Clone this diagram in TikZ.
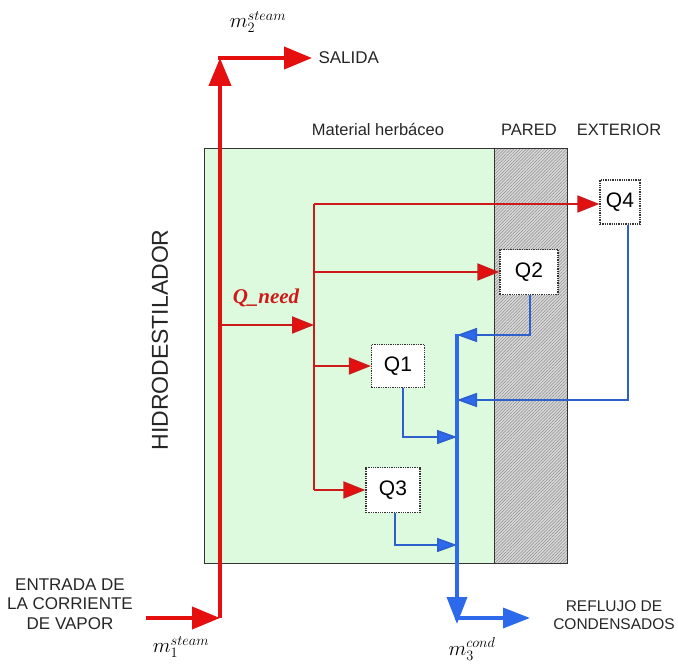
\documentclass[tikz,border=0pt]{standalone}
\usepackage{fontspec}
\setmainfont{Liberation Sans}
\newfontfamily\serifit{Liberation Serif}
\usetikzlibrary{arrows.meta,patterns.meta}
\definecolor{myred}{RGB}{230,15,15}
\definecolor{lred}{RGB}{205,25,25}
\definecolor{myblue}{RGB}{45,105,235}
\definecolor{lblue}{RGB}{45,95,205}
\definecolor{mygreen}{RGB}{222,250,222}
\tikzset{
  bigred/.style={draw=myred,line width=4pt,-{Triangle[length=28pt,width=22pt]}},
  redline/.style={draw=lred,line width=2pt},
  redarr/.style={draw=lred,line width=2pt,-{Triangle[length=22pt,width=17pt,fill=myred]}},
  bigblue/.style={draw=myblue,line width=3.5pt,-{Triangle[length=27pt,width=20pt]}},
  bluearr/.style={draw=lblue,line width=1.6pt,-{Triangle[length=20pt,width=14pt,fill=myblue]}},
  qbox/.style={draw=black!80,densely dotted,line width=1.3pt,fill=white,font=\fontsize{21}{23}\selectfont,inner sep=0pt},
  lbl/.style={font=\fontsize{16.5}{19}\selectfont,text=black!85},
  mlbl/.style={font=\serifit\itshape\fontsize{21}{23}\selectfont}
}
\begin{document}
\begin{tikzpicture}[x=1pt,y=-1pt]
\useasboundingbox (0,0) rectangle (678,669);
% boxes
\node[draw=black!80,line width=1pt,fill=mygreen,minimum width=290pt,minimum height=415pt,inner sep=0pt,anchor=north west] (herb) at (204,148) {};
\fill[gray!30] (494,148) rectangle (567,563);
\fill[pattern={Lines[distance=2.2pt,angle=45,line width=0.5pt]},pattern color=gray!90] (494,148) rectangle (567,563);
\node[draw=black!80,line width=1pt,minimum width=73pt,minimum height=415pt,inner sep=0pt,anchor=north west] (pared) at (494,148) {};
% labels
\node[lbl] (tmat) at (378,130) {Material herbáceo};
\node[lbl] (tpar) at (529,130) {PARED};
\node[lbl] (text) at (619,130) {EXTERIOR};
\node[rotate=90,font=\fontsize{23}{25}\selectfont,text=black!85] (hidro) at (160,340) {HIDRODESTILADOR};
\node[lbl,align=center,font=\fontsize{17}{19.5}\selectfont] (entrada) at (70,604) {ENTRADA DE\\LA CORRIENTE\\DE VAPOR};
\node[lbl,anchor=west,font=\fontsize{17}{19}\selectfont] (salida) at (315,58) {SALIDA};
\node[lbl,align=center,font=\fontsize{15.5}{18}\selectfont] (reflujo) at (614,615) {REFLUJO DE\\CONDENSADOS};
\node[mlbl] (m2) at (258,22) {$m_2^{steam}$};
\node[mlbl] (m1) at (181,647) {$m_1^{steam}$};
\node[mlbl] (m3) at (472,649) {$m_3^{cond}$};
\node[text=lred,font=\serifit\bfseries\itshape\fontsize{21}{23}\selectfont] (qneed) at (266,298) {Q\_need};
% Q boxes
\node[qbox,minimum width=40pt,minimum height=44pt] (Q4) at (620,202) {Q4};
\node[qbox,minimum width=58pt,minimum height=45pt] (Q2) at (529,272) {Q2};
\node[qbox,minimum width=53pt,minimum height=43pt] (Q1) at (398,366) {Q1};
\node[qbox,minimum width=54pt,minimum height=45pt] (Q3) at (393,490) {Q3};
% coordinates
\coordinate (in) at (146,618);
\coordinate (c1) at (220,618);
\coordinate (c2) at (220,58);
\coordinate (s1) at (312,58);
\coordinate (b0) at (220,325);
\coordinate (b1) at (314,325);
\coordinate (r0) at (314,204);
\coordinate (r1) at (314,272);
\coordinate (r2) at (314,366);
\coordinate (r3) at (314,490);
\coordinate (u0) at (457,335);
\coordinate (u1) at (457,618);
\coordinate (u2) at (530,618);
\coordinate (k4) at (457,400);
\coordinate (k1) at (457,437);
\coordinate (k3) at (457,545);
% red
\draw[bigred] (in) -- (c1);
\draw[bigred] (c1) -- (c2);
\draw[bigred,shorten <=-2pt] (c2) -- (s1);
\draw[redarr] (b0) -- (b1);
\draw[redline] (r0) -- (r3);
\draw[redarr] (r0) -- (Q4.west |- r0);
\draw[redarr] (r1) -- (Q2.west);
\draw[redarr] (r2) -- (Q1.west);
\draw[redarr] (r3) -- (Q3.west);
% blue
\draw[bluearr] ([xshift=1pt]Q2.south) |- (u0);
\draw[bluearr] ([xshift=8pt]Q4.south) |- (k4);
\draw[bluearr] ([xshift=5pt]Q1.south) |- (k1);
\draw[bluearr] ([xshift=2pt]Q3.south) |- (k3);
\draw[bigblue,shorten <=-1pt] (u0) -- ([yshift=-6pt]u1);
\draw[bigblue,shorten <=-1.75pt] (u1) -- (u2);
\end{tikzpicture}
\end{document}
